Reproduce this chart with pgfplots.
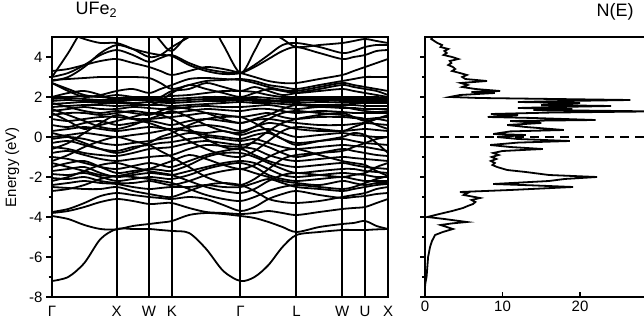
\documentclass[border=0pt]{standalone}
\usepackage{fontspec}
\setmainfont{Liberation Sans}
\usepackage{pgfplots}
\usepackage{pgfplotstable}
\pgfplotsset{compat=1.18}

\pgfplotstableread{
name c0 c1 c2 c3 c4 c5 c6 c7 c8 c9 c10 c11 c12 c13 c14 c15 c16 c17 c18 c19 c20 c21 c22
k 0 0.25 0.5 0.75 1 1.25 1.5 1.677 1.854 2.119 2.384 2.649 2.914 3.131 3.347 3.564 3.780 4.134 4.487 4.664 4.841 5.018 5.195
b1 -7.2 -7.0 -6.3 -5.1 -4.6 -4.6 -4.6 -4.65 -4.7 -4.8 -5.6 -6.7 -7.2 -7.0 -6.4 -5.5 -4.9 -4.75 -4.65 -4.65 -4.65 -4.62 -4.6
b2 -3.95 -4.1 -4.4 -4.6 -4.62 -4.45 -4.35 -4.28 -4.2 -3.9 -3.8 -3.85 -3.95 -4.05 -4.25 -4.5 -4.75 -4.5 -4.35 -4.3 -4.2 -4.45 -4.6
b3 -3.8 -3.7 -3.5 -3.25 -3.1 -3.2 -3.35 -3.32 -3.3 -3.55 -3.75 -3.8 -3.85 -3.8 -3.7 -3.8 -3.9 -3.75 -3.6 -3.55 -3.5 -3.3 -3.1
b4 -3.75 -3.6 -3.3 -2.95 -2.8 -2.9 -3.0 -3.05 -3.1 -3.0 -3.1 -3.4 -3.7 -3.5 -3.1 -2.85 -2.7 -2.9 -3.05 -3.0 -2.95 -2.85 -2.8
b5 -2.5 -2.55 -2.6 -2.6 -2.5 -2.7 -2.85 -2.95 -3.0 -2.7 -2.4 -2.3 -2.4 -2.7 -3.1 -3.25 -3.3 -3.2 -3.0 -2.9 -2.8 -2.6 -2.5
b6 -2.4 -2.3 -2.2 -2.3 -2.35 -2.5 -2.6 -2.55 -2.5 -2.5 -2.4 -2.5 -2.5 -2.3 -2.1 -2.3 -2.5 -2.6 -2.7 -2.6 -2.5 -2.4 -2.35
b7 -2.05 -2.1 -2.0 -2.2 -2.3 -2.3 -2.2 -2.3 -2.4 -2.2 -1.9 -1.7 -1.6 -1.8 -2.0 -2.2 -2.3 -2.4 -2.2 -2.3 -2.4 -2.3 -2.3
b8 -1.85 -1.9 -1.8 -2.0 -2.2 -2.1 -2.0 -2.05 -2.1 -1.9 -1.6 -1.4 -1.3 -1.5 -1.9 -2.1 -2.2 -2.1 -2.0 -2.1 -2.2 -2.2 -2.2
b9 -1.7 -1.6 -1.5 -1.8 -2.0 -1.9 -1.8 -1.85 -1.9 -1.7 -1.5 -1.3 -1.2 -1.3 -1.6 -1.9 -2.0 -1.9 -1.8 -1.85 -1.9 -2.0 -2.0
b10 -1.5 -1.3 -1.2 -1.5 -1.8 -1.7 -1.6 -1.65 -1.7 -1.4 -1.0 -0.8 -0.8 -1.0 -1.3 -1.6 -1.8 -1.7 -1.6 -1.6 -1.7 -1.75 -1.8
b11 -1.0 -1.1 -1.3 -1.5 -1.6 -1.45 -1.3 -1.4 -1.5 -1.2 -0.9 -0.7 -0.6 -0.9 -1.2 -1.4 -1.5 -1.4 -1.3 -1.4 -1.5 -1.55 -1.6
b12 -0.8 -0.7 -0.9 -1.1 -1.2 -1.1 -1.0 -0.95 -0.9 -0.6 -0.4 -0.45 -0.5 -0.6 -0.9 -1.1 -1.2 -1.1 -1.0 -1.05 -1.1 -1.15 -1.2
b13 -0.5 -0.6 -0.8 -0.9 -0.95 -0.8 -0.6 -0.55 -0.5 -0.3 -0.2 -0.3 -0.4 -0.3 -0.5 -0.8 -1.0 -0.8 -0.6 -0.7 -0.8 -0.9 -0.95
b14 -0.3 -0.2 -0.4 -0.6 -0.7 -0.5 -0.4 -0.3 -0.25 -0.1 0.0 -0.1 -0.2 -0.1 -0.3 -0.5 -0.6 -0.5 -0.4 -0.45 -0.5 -0.6 -0.7
b15 -0.1 0.0 -0.1 -0.3 -0.4 -0.3 -0.2 -0.1 0.0 0.2 0.1 0.0 -0.1 0.1 0.2 -0.1 -0.3 -0.2 -0.1 -0.2 -0.3 -0.35 -0.4
b16 0.0 0.1 0.2 0.1 0.0 0.1 0.2 0.3 0.4 0.3 0.2 0.3 0.1 0.3 0.4 0.2 0.0 0.1 0.2 0.1 0.05 0.0 0.0
b17 0.3 0.4 0.5 0.4 0.3 0.4 0.5 0.45 0.4 0.5 0.6 0.5 0.3 0.5 0.7 0.6 0.4 0.3 0.3 0.35 0.4 0.35 0.3
b18 0.6 0.5 0.7 0.8 0.6 0.7 0.8 0.7 0.6 0.8 0.9 0.8 0.7 0.85 0.9 0.8 0.7 0.6 0.6 0.65 0.7 0.65 0.6
b19 0.9 0.8 0.9 1.0 1.0 0.9 0.9 0.95 1.0 1.1 1.2 1.1 1.0 1.1 1.2 1.0 0.9 1.0 1.0 0.95 0.9 0.95 1.0
b20 1.1 1.2 1.2 1.1 1.2 1.3 1.2 1.2 1.2 1.3 1.4 1.35 1.3 1.4 1.4 1.3 1.2 1.3 1.25 1.2 1.2 1.2 1.2
b21 1.3 1.4 1.5 1.4 1.4 1.5 1.45 1.4 1.4 1.5 1.55 1.5 1.5 1.55 1.6 1.5 1.4 1.5 1.45 1.45 1.4 1.4 1.4
b22 1.5 1.55 1.6 1.6 1.55 1.6 1.6 1.6 1.55 1.6 1.65 1.7 1.75 1.7 1.7 1.65 1.6 1.6 1.6 1.6 1.55 1.55 1.55
b23 1.65 1.7 1.75 1.7 1.7 1.7 1.75 1.72 1.7 1.75 1.8 1.8 1.85 1.8 1.8 1.75 1.7 1.75 1.72 1.7 1.7 1.7 1.7
b24 1.8 1.85 1.8 1.8 1.8 1.85 1.85 1.8 1.8 1.85 1.9 1.9 1.9 1.9 1.85 1.8 1.8 1.85 1.8 1.8 1.8 1.8 1.8
b25 1.9 1.95 1.9 1.85 1.9 1.9 1.9 1.9 1.9 1.95 2.0 2.0 1.95 2.0 1.95 1.9 1.9 1.9 1.9 1.9 1.9 1.9 1.9
b26 2.0 2.0 2.05 2.0 1.95 2.0 2.0 2.0 2.05 2.1 2.2 2.3 2.3 2.25 2.1 2.0 2.0 2.0 2.0 2.0 2.0 2.0 1.95
b27 2.0 2.2 2.3 2.1 1.8 1.7 1.6 1.8 2.2 2.6 2.4 2.2 2.0 2.2 2.4 2.3 2.2 2.3 2.4 2.3 2.2 2.1 2.0
b28 2.7 2.4 2.1 2.0 2.1 2.0 1.9 2.0 2.3 2.4 2.7 2.5 2.3 2.5 2.3 2.1 2.2 2.4 2.6 2.5 2.4 2.3 2.1
b29 2.85 2.9 2.95 3.0 3.0 3.0 2.95 2.7 2.4 2.6 2.8 2.85 2.9 2.8 2.6 2.5 2.4 2.6 2.8 2.9 3.0 3.0 3.0
b30 3.0 3.2 3.6 4.1 4.35 4.1 3.75 3.95 4.1 3.7 3.4 3.25 3.2 3.5 3.9 4.3 4.5 4.2 3.9 4.0 4.1 4.3 4.35
b31 2.8 3.0 3.5 4.2 4.6 4.4 4.2 4.1 4.05 3.6 3.3 3.15 3.2 3.6 4.1 4.6 4.7 4.5 4.2 4.3 4.5 4.6 4.6
b32 3.0 4.2 5.5 6 6 6 5.5 4.8 4.3 5.2 6 4.6 3.2 4.3 5.6 6 6 6 5.5 5.3 5.0 5.3 5.6
b33 5.5 5.2 4.9 4.7 4.7 4.4 4.0 4.1 4.5 5.0 5.5 5.5 5.5 5.5 5.3 4.9 4.5 4.6 4.7 4.8 4.9 4.8 4.7
b34 2.7 2.3 2.0 2.1 2.3 2.4 2.2 2.4 2.6 2.9 2.95 2.9 2.85 2.7 2.5 2.35 2.3 2.5 2.7 2.6 2.5 2.4 2.3
b35 -2.2 -2.0 -1.7 -1.4 -1.3 -1.5 -1.7 -1.8 -1.9 -2.2 -2.5 -2.7 -2.8 -2.6 -2.2 -1.9 -1.8 -1.9 -2.0 -1.9 -1.8 -1.5 -1.3
b36 -1.2 -0.9 -0.5 -0.2 0.0 -0.2 -0.4 -0.7 -1.0 -1.5 -2.0 -2.3 -2.4 -2.1 -1.6 -1.1 -0.9 -0.8 -0.7 -0.5 -0.3 -0.1 0.0
b37 0.2 0.0 -0.3 -0.6 -0.8 -0.6 -0.3 0.0 0.2 0.6 0.9 1.0 1.0 0.7 0.3 -0.1 -0.4 -0.2 0.0 0.2 0.1 -0.3 -0.8
b38 1.2 0.8 0.4 0.6 0.8 1.0 1.2 1.1 0.9 0.4 -0.1 -0.5 -0.6 -0.2 0.3 0.7 0.9 1.1 1.2 1.0 0.8 0.9 0.8
b39 -0.6 -0.3 0.2 0.7 1.1 0.9 0.7 0.5 0.3 -0.2 -0.6 -0.9 -1.0 -0.7 -0.2 0.3 0.5 0.4 0.3 0.5 0.7 0.9 1.1
b40 1.4 1.1 0.8 0.5 0.4 0.6 0.9 1.1 1.3 1.0 0.6 0.3 0.2 0.5 0.9 1.2 1.3 1.2 1.1 1.0 0.9 0.6 0.4
b41 -1.3 -1.5 -1.7 -1.9 -1.95 -1.8 -1.6 -1.4 -1.2 -0.9 -1.1 -1.4 -1.6 -1.4 -1.0 -0.7 -0.6 -0.9 -1.2 -1.3 -1.4 -1.7 -1.95
b42 1.7 1.5 1.3 1.2 1.3 1.2 1.1 1.3 1.5 1.4 1.2 0.9 0.7 0.9 1.1 1.4 1.6 1.5 1.5 1.4 1.3 1.25 1.3
b43 -2.7 -2.6 -2.4 -2.1 -1.95 -2.0 -2.1 -2.2 -2.3 -2.6 -2.9 -3.1 -3.2 -3.0 -2.7 -2.5 -2.4 -2.5 -2.6 -2.5 -2.3 -2.1 -1.95
b44 3.3 3.4 3.6 3.8 3.9 3.7 3.5 3.3 3.1 3.3 3.5 3.4 3.2 3.0 2.8 2.7 2.7 2.9 3.1 3.3 3.5 3.7 3.9
}\bandsraw
\pgfplotstabletranspose[colnames from=name, input colnames to=idx]{\bands}{\bandsraw}

\pgfplotstableread{
N E
1.0 5.0
0.8 4.9
1.2 4.8
1.6 4.7
2.2 4.6
2.0 4.5
3.0 4.4
2.5 4.3
2.8 4.2
2.4 4.1
3.5 4.0
4.3 3.9
3.2 3.8
3.4 3.7
3.0 3.6
3.6 3.5
3.9 3.4
3.5 3.3
4.5 3.2
5.4 3.1
4.8 3.0
5.2 2.9
8.0 2.8
4.6 2.7
5.5 2.6
4.8 2.5
6.5 2.4
9.7 2.3
6.0 2.25
9.0 2.2
4.5 2.1
3.2 2.0
7.0 1.95
26.5 1.85
18 1.8
12 1.75
20 1.7
15 1.6
24 1.55
17 1.5
12 1.45
19 1.4
14 1.35
29.5 1.28
16 1.22
8.5 1.15
12 1.1
8.1 1.0
14 0.95
22 0.85
11 0.8
15 0.7
10.6 0.6
13 0.5
17.9 0.35
11 0.28
8.8 0.15
13 0.1
9.3 0.0
12 -0.1
18.7 -0.2
12 -0.28
8.4 -0.4
11 -0.5
15.2 -0.6
10 -0.7
8.8 -0.8
9.5 -0.9
8.6 -1.0
9.2 -1.1
8.5 -1.2
9.0 -1.3
8.7 -1.4
9.3 -1.5
10.6 -1.65
13 -1.75
16 -1.9
22.2 -2.0
18 -2.1
16 -2.2
8.8 -2.35
14 -2.42
19.1 -2.5
11 -2.65
4.5 -2.75
5.5 -2.8
5.0 -2.9
7.1 -3.05
6.0 -3.15
6.5 -3.25
6.2 -3.35
5.5 -3.45
4.9 -3.55
3.5 -3.7
2.4 -3.8
0.8 -3.95
0.3 -4.0
2.5 -4.1
5.4 -4.25
3.5 -4.32
2.0 -4.4
3.6 -4.6
2.3 -4.75
1.3 -4.9
0.9 -5.2
0.65 -5.5
0.4 -6.0
0.3 -6.5
0.2 -7.0
0.05 -7.3
0.0 -7.5
0.0 -8.0
}\dos

\begin{document}
\begin{tikzpicture}
\useasboundingbox (0,0) rectangle (644pt,326pt);
\pgfplotsset{
  every axis/.append style={
    scale only axis,
    anchor=south west,
    ymin=-8, ymax=5,
    axis line style={line width=2pt},
    every tick/.style={black, line width=1.6pt},
    major tick length=6pt,
    minor tick length=3.5pt,
    tick label style={font=\fontsize{15}{16}\selectfont},
    /pgf/number format/assume math mode=true,
  }
}
\begin{axis}[
  at={(52pt,29pt)},
  width=336pt, height=260pt,
  xmin=0, xmax=5.195,
  xtick={0,1,1.5,1.854,2.914,3.780,4.487,4.841,5.195},
  xticklabels={Γ,X,W,K,Γ,L,W,U,X},
  xmajorgrids,
  major x grid style={black, line width=2pt},
  x tick style={draw=none},
  xtick pos=bottom,
  ytick={-8,-6,...,4},
  minor ytick={-7,-5,...,3},
  ytick pos=left,
  tick align=outside,
  ylabel={Energy (eV)},
  ylabel style={font=\fontsize{15}{16}\selectfont, yshift=3pt},
  title={UFe\textsubscript{2}},
  title style={at={(0.06,1)}, anchor=base west, yshift=16pt, font=\fontsize{18}{19}\selectfont},
]
\pgfplotsinvokeforeach{1,...,44}{
  \addplot[black, line width=1.8pt, smooth, tension=0.5] table[x=k, y=b#1]{\bands};
}
\end{axis}

\begin{axis}[
  at={(425pt,29pt)},
  width=232.5pt, height=260pt,
  xmin=0, xmax=30,
  xtick={0,10,20},
  xtick pos=bottom,
  xtick align=inside,
  ytick={-8,-6,...,4},
  minor ytick={-7,-5,...,3},
  yticklabels={},
  ytick pos=left,
  ytick align=outside,
  major tick length=5pt,
  minor tick length=3pt,
  title={N(E)},
  title style={at={(0.723,1)}, anchor=base west, yshift=14pt, font=\fontsize{18}{19}\selectfont},
]
\addplot[black, line width=1.8pt] table[x=N, y=E]{\dos};
\addplot[black, line width=1.8pt, dash pattern=on 9pt off 6pt] coordinates {(0,0) (30,0)};
\end{axis}
\end{tikzpicture}
\end{document}
